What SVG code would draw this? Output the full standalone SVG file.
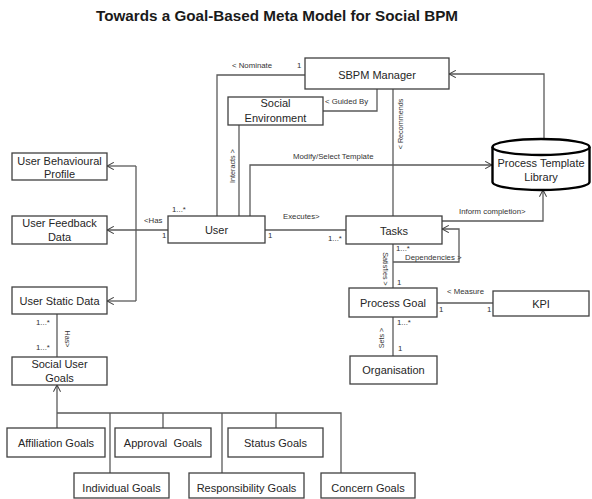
<svg xmlns="http://www.w3.org/2000/svg" width="592" height="499" viewBox="0 0 592 499">
<style>
.box{fill:#fff;stroke:#404040;stroke-width:1.3}
.t{font-family:"Liberation Sans",Arial,sans-serif;font-size:11px;fill:#262626;text-anchor:middle}
.s{font-family:"Liberation Sans",Arial,sans-serif;font-size:7.8px;fill:#333}
.r{font-family:"Liberation Sans",Arial,sans-serif;font-size:7.2px;fill:#333;text-anchor:middle;dominant-baseline:central}
.c{fill:none;stroke:#5a5a5a;stroke-width:1.3}
.cyl{fill:#fff;stroke:#000;stroke-width:2.4}
</style>
<defs>
<marker id="a" viewBox="0 0 10 10" refX="9.5" refY="5" markerWidth="8" markerHeight="8" markerUnits="userSpaceOnUse" orient="auto">
<path d="M1,0.5 L9.5,5 L1,9.5" fill="none" stroke="#404040" stroke-width="1.3"/>
</marker>
</defs>
<rect width="592" height="499" fill="#fff"/>
<text x="96" y="21" font-family="'Liberation Sans',Arial,sans-serif" font-size="15" font-weight="bold" fill="#1a1a1a" textLength="362" lengthAdjust="spacingAndGlyphs">Towards a Goal-Based Meta Model for Social BPM</text>

<g id="connectors">
<polyline class="c" points="305,75 217,75 217,216"/>
<polyline class="c" points="377,89 377,111 323,111"/>
<line class="c" x1="393" y1="89" x2="393" y2="216"/>
<line class="c" x1="239" y1="125" x2="239" y2="216"/>
<polyline class="c" points="250,216 250,165 492,165" marker-end="url(#a)"/>
<polyline class="c" points="544,139 544,74 449,74" marker-end="url(#a)"/>
<polyline class="c" points="442,221 543,221 543,190" marker-end="url(#a)"/>
<polyline class="c" points="393,262 459,262 459,229 442,229" marker-end="url(#a)"/>
<line class="c" x1="393" y1="244" x2="393" y2="288"/>
<line class="c" x1="265" y1="230" x2="346" y2="230"/>
<line class="c" x1="168" y1="230" x2="107" y2="230" marker-end="url(#a)"/>
<line class="c" x1="136" y1="166" x2="136" y2="301"/>
<line class="c" x1="136" y1="166" x2="107" y2="166" marker-end="url(#a)"/>
<line class="c" x1="136" y1="301" x2="107" y2="301" marker-end="url(#a)"/>
<line class="c" x1="437" y1="303" x2="493" y2="303"/>
<line class="c" x1="393" y1="317" x2="393" y2="356"/>
<line class="c" x1="57" y1="314" x2="57" y2="357"/>
<line class="c" x1="57" y1="428" x2="57" y2="385" marker-end="url(#a)"/>
<polyline class="c" points="57,413 341,413 341,473"/>
<line class="c" x1="110" y1="413" x2="110" y2="473"/>
<line class="c" x1="163" y1="413" x2="163" y2="428"/>
<line class="c" x1="222" y1="413" x2="222" y2="473"/>
<line class="c" x1="276" y1="413" x2="276" y2="428"/>

<text class="s" x="232" y="68">&lt; Nominate</text>
<text class="s" x="297" y="68">1</text>
<text class="s" x="325" y="104">&lt; Guided By</text>
<text class="r" transform="translate(400,124) rotate(-90)">&lt; Recommends</text>
<text class="r" transform="translate(232,166) rotate(-90)">Interacts &gt;</text>
<text class="s" x="293" y="158.5">Modify/Select Template</text>
<text class="s" x="172" y="212">1...*</text>
<text class="s" x="144" y="223">&lt;Has</text>
<text class="s" x="162" y="238">1</text>
<text class="s" x="268" y="238">1</text>
<text class="s" x="283" y="219">Executes&gt;</text>
<text class="s" x="328" y="241">1...*</text>
<text class="s" x="459" y="214">Inform completion&gt;</text>
<text class="s" x="396" y="251">1...*</text>
<text class="s" x="405" y="260">Dependencies &gt;</text>
<text class="r" transform="translate(385,269) rotate(90)">Satisfies &gt;</text>
<text class="s" x="397" y="285">1</text>
<text class="s" x="447" y="294">&lt; Measure</text>
<text class="s" x="439" y="312">1</text>
<text class="s" x="487" y="312">1</text>
<text class="s" x="397" y="325">1...*</text>
<text class="r" transform="translate(381,338) rotate(-90)">Sets &gt;</text>
<text class="s" x="398" y="351">1</text>
<text class="s" x="36" y="325">1...*</text>
<text class="s" x="36" y="350">1...*</text>
<text class="r" transform="translate(67,339) rotate(90)">Has&gt;</text>
</g>

<g id="sbpm-manager"><rect class="box" x="305" y="58" width="144" height="31"/><text class="t" x="377" y="79">SBPM Manager</text></g>
<g id="social-environment"><rect class="box" x="228" y="97" width="95" height="28"/><text class="t" x="275.5" y="107">Social</text><text class="t" x="275.5" y="122">Environment</text></g>
<g id="process-template-library">
<path class="cyl" d="M492.5,147 L492.5,182 A48.5,8 0 0 0 589.5,182 L589.5,147"/>
<ellipse class="cyl" cx="541" cy="147" rx="48.5" ry="8"/>
<text class="t" x="541" y="167">Process Template</text><text class="t" x="541" y="181">Library</text>
</g>
<g id="user-behavioural-profile"><rect class="box" x="12" y="153" width="95" height="27"/><text class="t" x="59.5" y="165">User Behavioural</text><text class="t" x="59.5" y="178">Profile</text></g>
<g id="user-feedback-data"><rect class="box" x="12" y="216" width="95" height="28"/><text class="t" x="59.5" y="227">User Feedback</text><text class="t" x="59.5" y="241">Data</text></g>
<g id="user-static-data"><rect class="box" x="12" y="287" width="95" height="27"/><text class="t" x="59.5" y="305">User Static Data</text></g>
<g id="social-user-goals"><rect class="box" x="12" y="357" width="95" height="28"/><text class="t" x="59.5" y="368">Social User</text><text class="t" x="59.5" y="382">Goals</text></g>
<g id="user"><rect class="box" x="168" y="216" width="97" height="27"/><text class="t" x="216.5" y="234">User</text></g>
<g id="tasks"><rect class="box" x="346" y="216" width="96" height="28"/><text class="t" x="394" y="235">Tasks</text></g>
<g id="process-goal"><rect class="box" x="349" y="288" width="88" height="29"/><text class="t" x="393" y="307">Process Goal</text></g>
<g id="kpi"><rect class="box" x="493" y="291" width="96" height="25"/><text class="t" x="541" y="308">KPI</text></g>
<g id="organisation"><rect class="box" x="350" y="356" width="87" height="28"/><text class="t" x="393.5" y="374">Organisation</text></g>
<g id="affiliation-goals"><rect class="box" x="7" y="428" width="98" height="29"/><text class="t" x="56" y="447">Affiliation Goals</text></g>
<g id="approval-goals"><rect class="box" x="115" y="428" width="96" height="29"/><text class="t" x="163" y="447" xml:space="preserve">Approval  Goals</text></g>
<g id="status-goals"><rect class="box" x="228" y="428" width="95" height="29"/><text class="t" x="275.5" y="447">Status Goals</text></g>
<g id="individual-goals"><rect class="box" x="74" y="473" width="95" height="25"/><text class="t" x="121.5" y="492">Individual Goals</text></g>
<g id="responsibility-goals"><rect class="box" x="189" y="473" width="115" height="25"/><text class="t" x="246.5" y="492">Responsibility Goals</text></g>
<g id="concern-goals"><rect class="box" x="321" y="473" width="94" height="25"/><text class="t" x="368" y="492">Concern Goals</text></g>
</svg>
